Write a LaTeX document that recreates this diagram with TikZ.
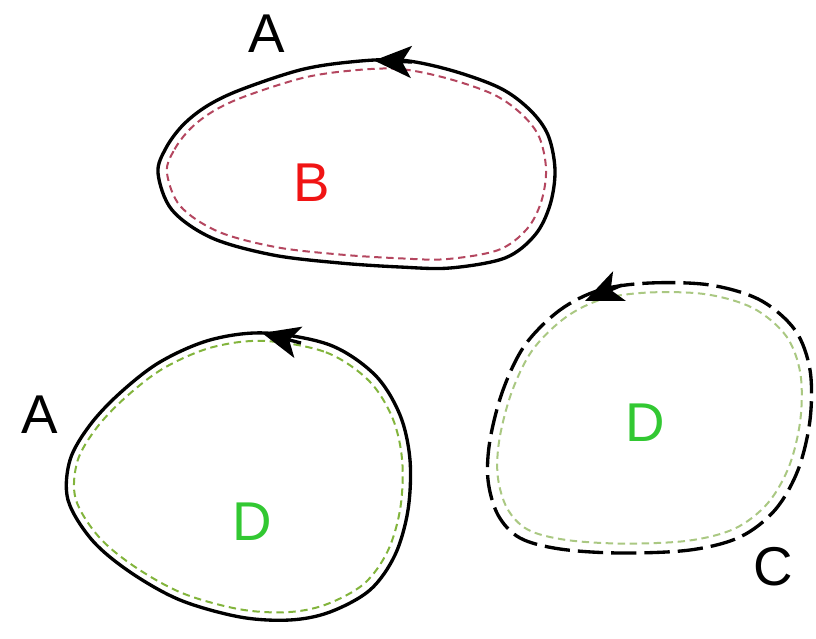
\documentclass[tikz,border=0pt]{standalone}
\usepackage{fontspec}
\setmainfont{Liberation Sans}
\usetikzlibrary{arrows.meta}
\definecolor{lblred}{RGB}{240,20,20}
\definecolor{lblgreen}{RGB}{50,200,50}
\definecolor{dashrose}{RGB}{180,70,95}
\definecolor{dasholive}{RGB}{130,180,60}
\definecolor{dashpale}{RGB}{170,200,130}
\tikzset{outline/.style={line width=2.5pt, black}}
\tikzset{outline dashed/.style={outline, dash pattern=on 19pt off 6pt}}
\tikzset{inner dash/.style={line width=1.5pt, dash pattern=on 5.5pt off 3.5pt}}
\tikzset{dir mark/.style={-{Stealth[length=28pt, width=24pt, inset=7pt]}, line width=2.5pt}}
\tikzset{lbl/.style={font=\fontsize{41}{48}\selectfont, inner sep=0pt}}
\tikzset{
  top loop/.style={insert path={plot[smooth cycle, tension=0.55] coordinates {
    (158,173) (166,148) (183,125) (207,106) (240,90) (300,70) (350,62)
    (400,60) (450,70) (500,88) (530,110) (548,135) (555,170) (550,205)
    (535,235) (505,258) (450,268) (400,267) (340,263) (273,255) (212,238)
    (172,210)}}},
  left loop/.style={insert path={plot[smooth cycle, tension=0.55] coordinates {
    (265,333) (330,345) (375,375) (400,415) (410,460) (408,510) (395,555)
    (370,590) (330,612) (290,620) (240,617) (180,600) (130,572) (92,540)
    (68,500) (70,460) (90,425) (120,393) (160,362) (210,340)}}},
  right loop/.style={insert path={plot[smooth cycle, tension=0.55] coordinates {
    (600,290) (650,283) (710,285) (760,300) (795,330) (810,370) (810,420)
    (798,470) (775,510) (740,537) (690,550) (620,553) (560,549) (520,538)
    (498,515) (488,480) (490,440) (503,390) (525,345) (560,310)}}}
}
\begin{document}
\begin{tikzpicture}[x=0.75pt, y=-0.75pt]
  \useasboundingbox (0,0) rectangle (816,638);

  % ---- top loop, solid, with B inside
  \draw[outline, top loop];
  \draw[inner dash, dashrose, shift={(356,164)}, xscale=0.955, yscale=0.915,
        shift={(-356,-164)}, top loop];
  \draw[dir mark] (412,62) -- (374,60.5);
  \node[lbl] (labA1) at (267,34) {A};
  \node[lbl, lblred] (labB) at (312,183) {B};

  % ---- bottom-left loop, solid, with D inside
  \draw[outline, left loop];
  \draw[inner dash, dasholive, shift={(237,477)}, xscale=0.955, yscale=0.945,
        shift={(-237,-477)}, left loop];
  \draw[dir mark] (301,343) -- (262,333);
  \node[lbl] (labA2) at (40,415) {A};
  \node[lbl, lblgreen] (labD1) at (252,522) {D};

  % ---- right loop, long dashes, with D inside
  \draw[outline dashed, right loop];
  \draw[inner dash, dashpale, shift={(649,418)}, xscale=0.94, yscale=0.93,
        shift={(-649,-418)}, right loop];
  \draw[dir mark] (622,285) -- (585,301);
  \node[lbl, lblgreen] (labD2) at (645,423) {D};
  \node[lbl] (labC) at (773,567) {C};

\end{tikzpicture}
\end{document}
